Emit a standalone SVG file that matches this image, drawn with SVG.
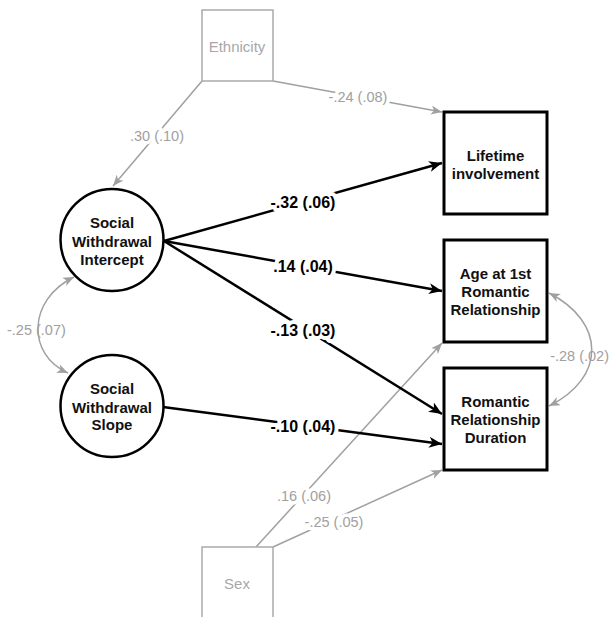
<svg xmlns="http://www.w3.org/2000/svg" width="611" height="617" viewBox="0 0 611 617">
<style>
.gbox{fill:#fff;stroke:#aaaaaa;stroke-width:1.5}
.bbox{fill:#fff;stroke:#000;stroke-width:3}
.lat{fill:#fff;stroke:#000;stroke-width:2.5}
.nt{font-family:"Liberation Sans",Arial,sans-serif;font-size:15px;font-weight:bold;fill:#111;text-anchor:middle}
.gt{font-family:"Liberation Sans",Arial,sans-serif;font-size:15px;fill:#a8a8a8;text-anchor:middle}
.be{fill:none;stroke:#000;stroke-width:2.5;marker-end:url(#ab)}
.ge{fill:none;stroke:#a0a0a0;stroke-width:1.5;marker-end:url(#ag)}
.gc{fill:none;stroke:#a0a0a0;stroke-width:1.5;marker-end:url(#ag);marker-start:url(#ag)}
.bl{font-family:"Liberation Sans",Arial,sans-serif;font-size:16px;font-weight:bold;fill:#000;text-anchor:middle;stroke:#fff;stroke-width:8;paint-order:stroke;stroke-linejoin:round}
.gl{font-family:"Liberation Sans",Arial,sans-serif;font-size:14.5px;fill:#a0a0a0;text-anchor:middle;stroke:#fff;stroke-width:7;paint-order:stroke;stroke-linejoin:round}
.gl2{font-family:"Liberation Sans",Arial,sans-serif;font-size:14.5px;fill:#a0a0a0}
</style>
<defs>
<marker id="ab" markerUnits="userSpaceOnUse" markerWidth="14" markerHeight="12" refX="13" refY="5.5" orient="auto">
<path d="M0,0 L13,5.5 L0,11 L3.5,5.5 z" fill="#000"/>
</marker>
<marker id="ag" markerUnits="userSpaceOnUse" markerWidth="12" markerHeight="10" refX="11" refY="4.5" orient="auto-start-reverse">
<path d="M0,0 L11,4.5 L0,9 L3,4.5 z" fill="#a0a0a0"/>
</marker>
</defs>
<rect width="611" height="617" fill="#fff"/>
<g id="connectors">
<path class="ge" d="M202,81 L113,186"/>
<path class="ge" d="M273,81 L442,112"/>
<path class="ge" d="M256,547 L442,343"/>
<path class="ge" d="M273,547 L442,470"/>
<path class="be" d="M164,241 L442,163"/>
<path class="be" d="M164,241 L442,291"/>
<path class="be" d="M164,241 L442,414"/>
<path class="be" d="M163,407 L442,444"/>
<path class="gc" d="M74,277 C27,300 27,355 68,373"/>
<path class="gc" d="M549,293 C606,322 606,378 549,406"/>
<text class="gl" x="358" y="102">-.24 (.08)</text>
<text class="gl" x="157" y="141">.30 (.10)</text>
<text class="bl" x="303" y="208">-.32 (.06)</text>
<text class="bl" x="303" y="272">.14 (.04)</text>
<text class="bl" x="303" y="336">-.13 (.03)</text>
<text class="bl" x="303" y="432">-.10 (.04)</text>
<text class="gl" x="304" y="501">.16 (.06)</text>
<text class="gl" x="334" y="527">-.25 (.05)</text>
<text class="gl2" x="7" y="335">-.25 (.07)</text>
<text class="gl2" x="609" y="361" text-anchor="end">-.28 (.02)</text>
</g>
<g id="ethnicity">
<rect class="gbox" x="202" y="10" width="71" height="71"/>
<text class="gt" x="237" y="52">Ethnicity</text>
</g>
<g id="sex">
<rect class="gbox" x="202" y="547" width="71" height="80"/>
<text class="gt" x="237" y="589">Sex</text>
</g>
<g id="intercept">
<ellipse class="lat" cx="112" cy="240" rx="51.5" ry="51"/>
<text class="nt" x="112" y="228">Social</text>
<text class="nt" x="112" y="247">Withdrawal</text>
<text class="nt" x="112" y="265">Intercept</text>
</g>
<g id="slope">
<ellipse class="lat" cx="112" cy="406" rx="51.5" ry="51"/>
<text class="nt" x="112" y="394">Social</text>
<text class="nt" x="112" y="412.5">Withdrawal</text>
<text class="nt" x="112" y="430">Slope</text>
</g>
<g id="lifetime">
<rect class="bbox" x="444" y="112" width="103" height="102"/>
<text class="nt" x="495.5" y="161">Lifetime</text>
<text class="nt" x="495.5" y="179">involvement</text>
</g>
<g id="age">
<rect class="bbox" x="444" y="240" width="103" height="102"/>
<text class="nt" x="495.5" y="279">Age at 1st</text>
<text class="nt" x="495.5" y="297">Romantic</text>
<text class="nt" x="495.5" y="315">Relationship</text>
</g>
<g id="duration">
<rect class="bbox" x="444" y="368" width="103" height="102"/>
<text class="nt" x="495.5" y="407">Romantic</text>
<text class="nt" x="495.5" y="425">Relationship</text>
<text class="nt" x="495.5" y="443">Duration</text>
</g>
</svg>
